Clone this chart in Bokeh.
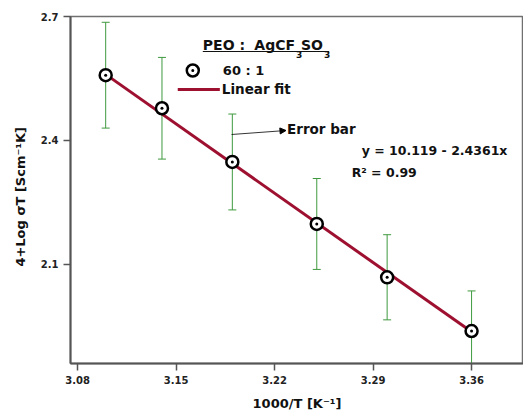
from bokeh.plotting import figure
from bokeh.models import (ColumnDataSource, Whisker, TeeHead, FixedTicker, Range1d,
                          Arrow, NormalHead)
from bokeh.core.properties import value
from bokeh.embed import file_html
from bokeh.resources import INLINE

# ---- data ----
inv_T = [3.10, 3.14, 3.19, 3.25, 3.30, 3.36]
log_sigma_T = [2.558, 2.478, 2.348, 2.198, 2.069, 1.939]
err = [0.128, 0.123, 0.116, 0.110, 0.103, 0.097]

fit_x = [3.10, 3.36]
fit_y = [2.560, 1.937]

x_ticks = [3.08, 3.15, 3.22, 3.29, 3.36]
y_ticks = [2.1, 2.4, 2.7]

legend_title = ["PEO :", "AgCF", "3", "SO", "3"]
legend_series = "60 : 1"
legend_fit = "Linear fit"
eq_text = "y = 10.119 - 2.4361x"
r2_text = "R\u00b2 = 0.99"
err_text = "Error bar"

FONT = "DejaVu Sans"

src = ColumnDataSource(dict(
    x=inv_T, y=log_sigma_T,
    upper=[a + b for a, b in zip(log_sigma_T, err)],
    lower=[a - b for a, b in zip(log_sigma_T, err)],
))

p = figure(width=523, height=414, output_backend="svg", toolbar_location=None,
           x_range=Range1d(3.075, 3.3969), y_range=Range1d(1.8604, 2.70),
           min_border_left=70, min_border_right=0, min_border_top=16,
           min_border_bottom=51)

p.background_fill_color = "white"
p.border_fill_color = "white"
p.outline_line_color = "#707070"
p.outline_line_width = 1.5
p.xgrid.visible = False
p.ygrid.visible = False

for ax in (p.xaxis[0], p.yaxis[0]):
    ax.axis_line_color = "#555555"
    ax.axis_line_width = 2
    ax.major_tick_line_color = "#555555"
    ax.major_tick_line_width = 1.5
    ax.major_tick_out = 7
    ax.major_tick_in = 0
    ax.minor_tick_line_color = None
    ax.major_label_text_font = FONT
    ax.major_label_text_font_style = "bold"
    ax.major_label_text_font_size = "10px"
    ax.major_label_text_color = "#222222"
    ax.axis_label_text_font = FONT
    ax.axis_label_text_font_style = "bold"
    ax.axis_label_text_font_size = "13px"
    ax.axis_label_text_color = "#111111"

p.xaxis.ticker = FixedTicker(ticks=x_ticks)
p.yaxis.ticker = FixedTicker(ticks=y_ticks)
p.xaxis.major_label_standoff = 5
p.yaxis.major_label_standoff = 5
p.xaxis.axis_label = "1000/T [K\u207b\u00b9]"
p.xaxis.axis_label_standoff = 9
p.yaxis.axis_label = "4+Log \u03c3T [Scm\u207b\u00b9K]" + "\u00a0" * 3
p.yaxis.axis_label_standoff = 10

GREEN = "#3f9a3f"
RED = "#9e1030"

# error bars
p.add_layout(Whisker(source=src, base="x", upper="upper", lower="lower",
                     line_color=GREEN, line_width=1,
                     upper_head=TeeHead(size=8, line_color=GREEN, line_width=1),
                     lower_head=TeeHead(size=8, line_color=GREEN, line_width=1)))

# linear fit
p.line(fit_x, fit_y, line_color=RED, line_width=3)

# data points
p.scatter("x", "y", source=src, marker="circle_dot", size=12,
          line_color="black", line_width=2.5, fill_color="white")

# ---- legend and annotations (positions converted from pixels) ----
def px2x(px):
    return 3.075 + (px - 71) / 1404.0

def py2y(py):
    return 2.7 - (py - 16) / 413.3

def txt(x, y, s, size, align="left", baseline="middle"):
    p.text([x], [y], text=[s], text_font=value(FONT), text_font_style="bold",
           text_font_size=size, text_align=align, text_baseline=baseline,
           text_color="#111111")

title_font = "14px"
txt(px2x(203), py2y(45), legend_title[0], title_font)
txt(px2x(295), py2y(45), legend_title[1], title_font, align="right")
txt(px2x(299), py2y(54), legend_title[2], "9px", align="center")
txt(px2x(301), py2y(45), legend_title[3], title_font)
txt(px2x(324), py2y(54), legend_title[4], "9px")
p.segment([px2x(203)], [py2y(51)], [px2x(329)], [py2y(51)],
          line_color="#111111", line_width=1.2)

p.scatter([px2x(193)], [py2y(70)], marker="circle_dot", size=12,
          line_color="black", line_width=2.5, fill_color="white")
txt(px2x(223), py2y(70), legend_series, "13px")
p.segment([px2x(178)], [py2y(89)], [px2x(220)], [py2y(89)],
          line_color=RED, line_width=3)
txt(px2x(222), py2y(89), legend_fit, "13.5px")

# error bar annotation
p.add_layout(Arrow(end=NormalHead(size=6, fill_color="black", line_color="black"),
                   x_start=px2x(231.7), y_start=py2y(134),
                   x_end=px2x(286), y_end=py2y(130),
                   line_color="black", line_width=0.8))
txt(px2x(287), py2y(128.5), err_text, "13.5px")

# equation
txt(px2x(361.5), py2y(150), eq_text, "12.5px")
txt(px2x(351.5), py2y(172), r2_text, "12.5px")

open("out.html", "w").write(file_html(p, INLINE))
